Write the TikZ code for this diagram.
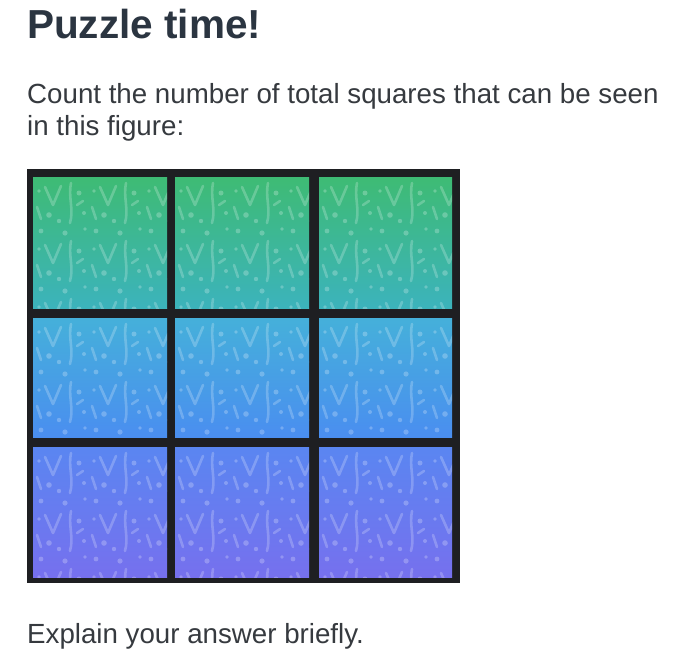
\documentclass[tikz,border=0pt]{standalone}
\usepackage{fontspec}
\setmainfont{Liberation Sans}
\definecolor{titlec}{HTML}{2B3541}
\definecolor{bodyc}{HTML}{363A3F}
\definecolor{gridc}{HTML}{1E1F22}
\definecolor{rat}{HTML}{3EBB74}
\definecolor{rab}{HTML}{3CB3BC}
\definecolor{rbt}{HTML}{45B0DA}
\definecolor{rbb}{HTML}{4A8EF0}
\definecolor{rct}{HTML}{5A86F1}
\definecolor{rcb}{HTML}{7670EE}
\tikzset{
  titletext/.style={anchor=base west, inner sep=0pt, text=titlec, font=\bfseries\fontsize{40.5}{46}\selectfont},
  bodytext/.style={anchor=base west, inner sep=0pt, text=bodyc, font=\fontsize{27.7}{32}\selectfont},
  texline/.style={draw=white, draw opacity=0.22, line width=2.6pt, line cap=round, line join=round},
  texdot/.style={fill=white, fill opacity=0.24},
}
\begin{document}
\begin{tikzpicture}[x=1pt,y=-1pt]
\useasboundingbox (0,0) rectangle (700,661);
\fill[white] (0,0) rectangle (700,661);

\node[titletext] (title) at (27,38) {Puzzle time!};
\node[bodytext] (line1) at (27,103) {Count the number of total squares that can be seen};
\node[bodytext] (line2) at (27,135) {in this figure:};
\node[bodytext] (explain) at (27,643) {Explain your answer briefly.};

\fill[gridc] (27,169) rectangle (460,583);
\foreach \l/\r in {33/167,175/309,319/452} {
  \foreach \t/\b/\ct/\cb in {177/308/rat/rab, 318/437/rbt/rbb, 447/577/rct/rcb} {
    \begin{scope}
      \clip (\l,\t) rectangle (\r,\b);
      \shade[top color=\ct, bottom color=\cb] (\l,\t) rectangle (\r,\b);
      \foreach \px in {0,55,110} {
        \foreach \py in {0,58,116} {
          \begin{scope}[shift={(\l+\px+4,\t+\py+4)}]
            \draw[texline] (8,6) -- (16,24) -- (24,5);
            \draw[texline] (34,2) .. controls (31,16) and (37,28) .. (33,42);
            \draw[texline] (0,26) -- (4,38);
            \draw[texline] (40,24) -- (46,20);
            \fill[texdot] (12,34) circle (2.8);
            \fill[texdot] (22,40) circle (2.2);
            \fill[texdot] (42,12) circle (2.5);
            \fill[texdot] (47,32) circle (2.0);
            \fill[texdot] (4,50) circle (2.4);
            \fill[texdot] (28,52) circle (2.6);
            \fill[texdot] (48,48) circle (1.9);
            \fill[texdot] (2,10) circle (1.8);
          \end{scope}
        }
      }
    \end{scope}
  }
}
\end{tikzpicture}
\end{document}
